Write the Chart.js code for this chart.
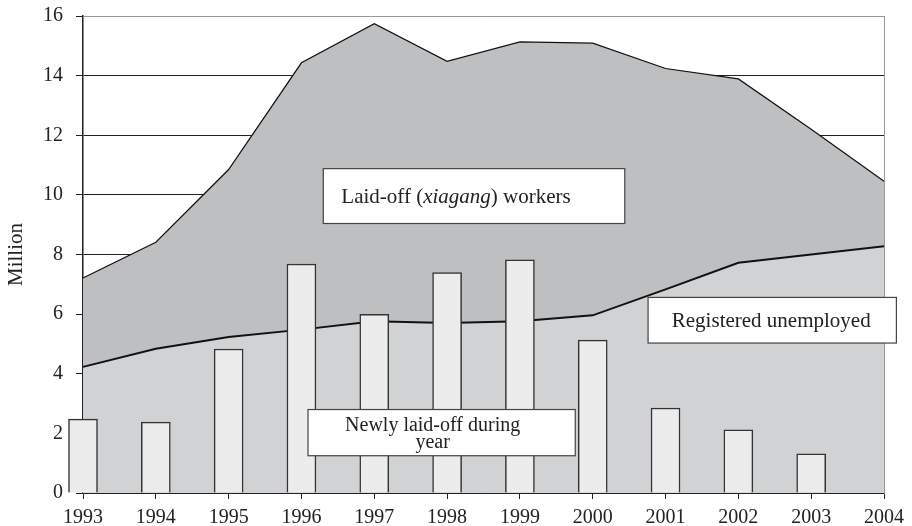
<!DOCTYPE html>
<html>
<head>
<meta charset="utf-8">
<script src="https://cdn.jsdelivr.net/npm/chart.js@4.4.1/dist/chart.umd.min.js"></script>
<style>
  html, body { margin: 0; padding: 0; background: #fff; }
  #wrap { width: 912px; height: 526px; }
</style>
</head>
<body>
<div id="wrap"><canvas id="unemploymentChart" width="912" height="526"></canvas></div>
<script>
// values (million)
const years = ["1993", "1994", "1995", "1996", "1997", "1998", "1999", "2000", "2001", "2002", "2003", "2004"];
const laidOffTotal = [7.21, 8.41, 10.85, 14.43, 15.74, 14.48, 15.13, 15.09, 14.24, 13.89, 12.2, 10.46];
const registeredUnemployed = [4.23, 4.84, 5.23, 5.48, 5.76, 5.70, 5.76, 5.96, 6.83, 7.72, 8.0, 8.28];
const newlyLaidOff = [2.48, 2.38, 4.83, 7.68, 5.99, 7.39, 7.82, 5.13, 2.85, 2.12, 1.31, null];
const yTicks = [0, 2, 4, 6, 8, 10, 12, 14, 16];

const SERIF = "'Liberation Serif', 'Times New Roman', serif";
const INK = "#222";

// boxed labels, x in category index units, y in axis units
const notes = [
    { x0: 3.30, x1: 7.44, y0: 10.88, y1: 9.04, size: 21, align: "left", shift: 18,
      lines: [[{ t: "Laid-off (" }, { t: "xiagang", i: true }, { t: ") workers" }]] },
    { x0: 7.76, x1: 11.17, y0: 6.56, y1: 5.03, size: 21, align: "center", shift: -1,
      lines: [[{ t: "Registered unemployed" }]] },
    { x0: 3.09, x1: 6.76, y0: 2.80, y1: 1.25, size: 20, align: "center", shift: -9,
      lines: [[{ t: "Newly laid-off during" }], [{ t: "year" }]] }
];

function drawSegments(ctx, segs, x, y, size, align) {
    const fontFor = s => (s.i ? "italic " : "") + size + "px " + SERIF;
    let total = 0;
    segs.forEach(s => { ctx.font = fontFor(s); total += ctx.measureText(s.t).width; });
    let cx = align === "center" ? x - total / 2 : x;
    segs.forEach(s => {
        ctx.font = fontFor(s);
        ctx.fillText(s.t, cx, y);
        cx += ctx.measureText(s.t).width;
    });
}

const notesPlugin = {
    id: "notes",
    afterDatasetsDraw(chart) {
        const { ctx, scales: { x, y } } = chart;
        ctx.save();
        notes.forEach(n => {
            const left = x.getPixelForValue(n.x0), right = x.getPixelForValue(n.x1);
            const top = y.getPixelForValue(n.y0), bottom = y.getPixelForValue(n.y1);
            ctx.fillStyle = "#fff";
            ctx.fillRect(left, top, right - left, bottom - top);
            ctx.strokeStyle = "#444";
            ctx.lineWidth = 1.2;
            ctx.strokeRect(left, top, right - left, bottom - top);
            ctx.fillStyle = INK;
            ctx.textBaseline = "alphabetic";
            ctx.textAlign = "left";
            const lh = n.size * 0.86;
            const mid = (top + bottom) / 2;
            const firstBase = mid - (n.lines.length - 1) * lh / 2 + n.size * 0.33;
            const tx = n.align === "center" ? (left + right) / 2 + n.shift : left + n.shift;
            n.lines.forEach((segs, k) => {
                drawSegments(ctx, segs, tx, firstBase + k * lh, n.size, n.align);
            });
        });
        ctx.restore();
    }
};

Chart.defaults.font.family = SERIF;
Chart.defaults.color = INK;

const ctx = document.getElementById("unemploymentChart").getContext("2d");
new Chart(ctx, {
    type: "bar",
    data: {
        labels: years,
        datasets: [
            {
                type: "line",
                label: "Registered unemployed",
                data: registeredUnemployed,
                borderColor: "#111",
                borderWidth: 2,
                backgroundColor: "#d1d2d4",
                fill: "origin",
                pointRadius: 0,
                tension: 0,
                order: 1
            },
            {
                type: "line",
                label: "Laid-off (xiagang) workers",
                data: laidOffTotal,
                borderColor: "#111",
                borderWidth: 1.2,
                backgroundColor: "#bebfc1",
                fill: "-1",
                pointRadius: 0,
                tension: 0,
                order: 2
            },
            {
                type: "bar",
                label: "Newly laid-off during year",
                data: newlyLaidOff,
                backgroundColor: "#ececec",
                borderColor: "#333",
                borderWidth: 1.5,
                barThickness: 29,
                clip: false,
                order: 0
            }
        ]
    },
    options: {
        responsive: false,
        animation: false,
        layout: { padding: { top: 16, right: 28, bottom: 0, left: 0 } },
        plugins: {
            legend: { display: false },
            tooltip: { enabled: false }
        },
        scales: {
            x: {
                offset: false,
                grid: { display: true, offset: false, drawOnChartArea: false, tickLength: 6, color: INK },
                border: { color: INK, width: 1.5 },
                ticks: { font: { size: 20 }, color: INK, padding: 7, maxRotation: 0, autoSkip: false },
                afterFit: s => { s.height = 33; }
            },
            y: {
                min: 0,
                max: 16,
                afterBuildTicks: s => { s.ticks = yTicks.map(v => ({ value: v })); },
                ticks: { font: { size: 20 }, color: INK, padding: 13 },
                grid: {
                    color: c => (c.tick && c.tick.value === 16 ? "#999" : INK),
                    tickColor: INK,
                    tickLength: 7,
                    lineWidth: 1
                },
                border: { color: INK, width: 1.5 },
                title: { display: true, text: "Million", font: { size: 21 }, color: INK, padding: { top: 4, bottom: 0 } },
                afterFit: s => { s.width = 83; s.paddingTop = 0; s.paddingBottom = 0; }
            },
            yRight: {
                position: "right",
                min: 0,
                max: 16,
                ticks: { display: false },
                grid: { drawOnChartArea: false, drawTicks: false },
                border: { color: "#999", width: 1 },
                afterFit: s => { s.width = 0; s.paddingTop = 0; s.paddingBottom = 0; }
            }
        }
    },
    plugins: [notesPlugin]
});
</script>
</body>
</html>
